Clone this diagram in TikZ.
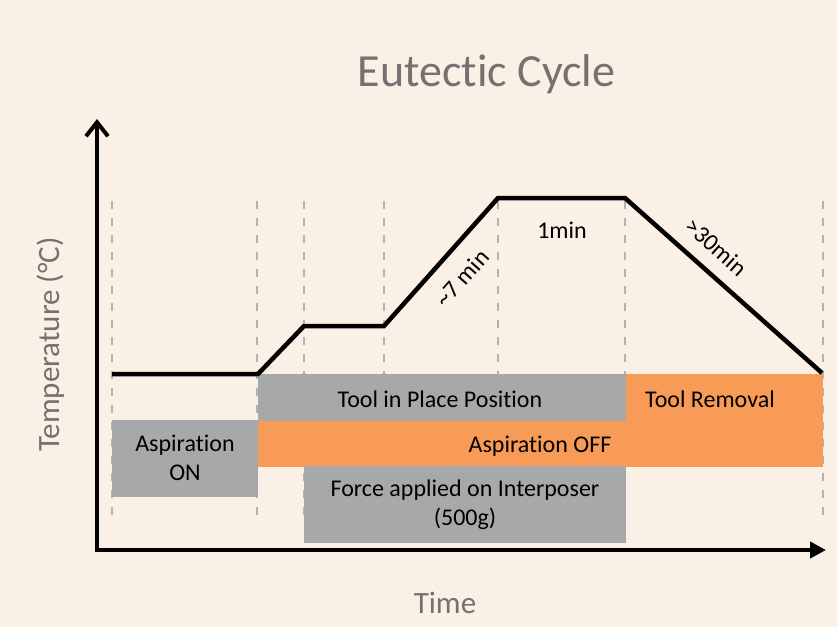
\documentclass[tikz,border=0pt]{standalone}
\usepackage{fontspec}
\setmainfont[Ligatures=CommonOff]{Carlito}
\usetikzlibrary{arrows.meta}
\definecolor{bgcream}{RGB}{250,240,229}
\definecolor{boxgray}{RGB}{167,168,170}
\definecolor{boxorange}{RGB}{247,155,86}
\definecolor{labelgray}{RGB}{118,113,113}
\definecolor{dashgray}{RGB}{178,178,178}
\begin{document}
\begin{tikzpicture}[x=1pt,y=-1pt,
    guide/.style={draw=dashgray,line width=2pt,dash pattern=on 8pt off 9pt},
    profile/.style={line width=4.5pt},
    axisline/.style={line width=4pt},
    boxtext/.style={font=\fontsize{24}{28.5}\selectfont,inner sep=0pt,align=center},
    axistext/.style={font=\fontsize{31}{36}\selectfont,text=labelgray,inner sep=0pt}]
                            % background and page size
                            \fill [bgcream] (0,0) rectangle (837,627);
                            \useasboundingbox (0,0) rectangle (837,627);

                            % Drawing dashed guides
                            \foreach \xg in {112,257,304,384,498,625,823}
                              \draw [guide] (\xg,201) -- (\xg,515);

                            % Drawing phase bars
                            \fill [boxgray] (258,374) rectangle (626,421);
                            \fill [boxorange] (626,374) rectangle (823,421);
                            \fill [boxorange] (258,421) rectangle (823,467);
                            \fill [boxgray] (112,420) rectangle (258,497);
                            \fill [boxgray] (304,466) rectangle (626,543);

                            % Marking profile points
                            \coordinate (p1) at (112,374);
                            \coordinate (p2) at (258,374);
                            \coordinate (p3) at (304,326);
                            \coordinate (p4) at (384,326);
                            \coordinate (p5) at (498,198);
                            \coordinate (p6) at (625,198);
                            \coordinate (p7) at (822,373);

                            % Drawing temperature profile
                            \draw [profile] (p1) -- (p2) -- (p3) -- (p4) -- (p5) -- (p6) -- (p7);
                            \node [boxtext,rotate=48.3] (ramp) at (462,278) {\textasciitilde 7 min};
                            \node [boxtext,rotate=-41.8] (cool) at (716,247) {>30min};
                            \node [boxtext,anchor=base] (hold) at (562,238) {1min};

                            % Drawing axes
                            \coordinate (origin) at (97,550);
                            \coordinate (ytip) at (97,119);
                            \coordinate (xtip) at (826,550);
                            \draw [axisline,-{Straight Barb[length=14pt,width=22pt]}] (origin) -- (ytip);
                            \draw [axisline,-{Triangle[length=16pt,width=16pt]}] ([xshift=-2pt]origin) -- (xtip);

                            % Marking bar labels
                            \node [boxtext,anchor=base] (place) at (440,407) {Tool in Place Position};
                            \node [boxtext,anchor=base] (removal) at (710,407) {Tool Removal};
                            \node [boxtext,anchor=base] (aspoff) at (540,452) {Aspiration OFF};
                            \node [boxtext] (aspon) at (185,458) {Aspiration\\ON};
                            \node [boxtext] (force) at (465,504.5) {Force applied on Interposer\\(500g)};

                            % Marking titles
                            \node [font=\fontsize{46}{52}\selectfont,text=labelgray,inner sep=0pt,anchor=base] (title) at (486.5,86) {Eutectic Cycle};
                            \node [axistext,anchor=base] (time) at (445,613) {Time};
                            \node [axistext,anchor=base,rotate=90] (temp) at (59,344.5) {Temperature (°C)};
\end{tikzpicture}
\end{document}
